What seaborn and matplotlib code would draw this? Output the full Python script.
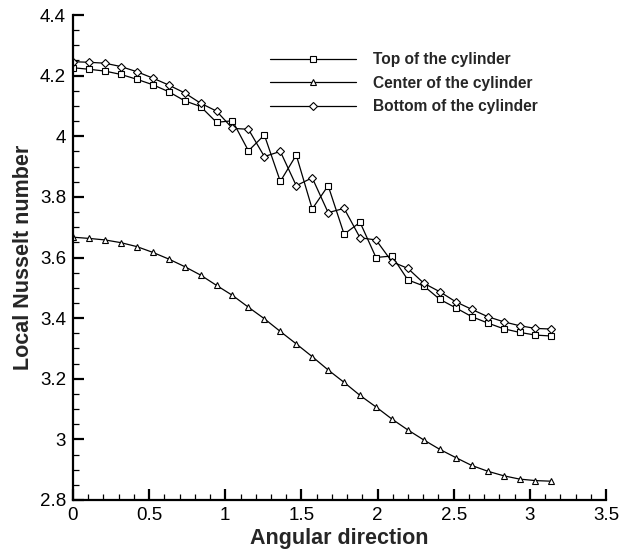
import numpy as np
import pandas as pd
import matplotlib
matplotlib.use("Agg")
import matplotlib.pyplot as plt
import seaborn as sns
from matplotlib.ticker import MultipleLocator, FuncFormatter

# Angular positions: 31 stations from 0 to pi
n_points = 31
angle = [i * np.pi / 30 for i in range(n_points)]

top_nu = [4.226, 4.221, 4.215, 4.204, 4.188, 4.170, 4.147, 4.117, 4.098, 4.046,
          4.051, 3.952, 4.004, 3.851, 3.938, 3.760, 3.837, 3.677, 3.716, 3.600,
          3.605, 3.526, 3.506, 3.462, 3.434, 3.405, 3.384, 3.365, 3.353, 3.344,
          3.341]
center_nu = [3.667, 3.663, 3.658, 3.649, 3.636, 3.617, 3.595, 3.570, 3.542, 3.508,
             3.475, 3.436, 3.398, 3.356, 3.315, 3.273, 3.229, 3.188, 3.145, 3.107,
             3.067, 3.031, 2.998, 2.967, 2.940, 2.914, 2.895, 2.880, 2.869, 2.864,
             2.862]
bottom_nu = [4.246, 4.244, 4.241, 4.230, 4.213, 4.192, 4.169, 4.143, 4.109, 4.083,
             4.026, 4.023, 3.933, 3.950, 3.837, 3.863, 3.748, 3.762, 3.665, 3.658,
             3.586, 3.564, 3.515, 3.487, 3.454, 3.429, 3.405, 3.388, 3.375, 3.366,
             3.364]

series_names = ["Top of the cylinder", "Center of the cylinder", "Bottom of the cylinder"]
series_values = [top_nu, center_nu, bottom_nu]
series_markers = ["s", "^", "D"]
series_msize = [4.7, 4.4, 3.9]

sns.set_theme(style="white")
plt.rcParams["font.family"] = ["Liberation Sans", "DejaVu Sans"]

fig = plt.figure(figsize=(6.35, 5.56), dpi=100)
ax = fig.add_axes([73 / 635, 1 - 500 / 556, (606 - 73) / 635, (500 - 15) / 556])

for name, vals, mk, ms in zip(series_names, series_values, series_markers, series_msize):
    df = pd.DataFrame({"angle": angle, "nu": vals})
    sns.lineplot(data=df, x="angle", y="nu", ax=ax, sort=False, estimator=None,
                 color="black", linewidth=0.9, marker=mk, markersize=ms,
                 markerfacecolor="white", markeredgecolor="black",
                 markeredgewidth=0.8, label=name)

ax.set_xlim(0, 3.5)
ax.set_ylim(2.8, 4.4)
ax.xaxis.set_major_locator(MultipleLocator(0.5))
ax.xaxis.set_minor_locator(MultipleLocator(0.1))
ax.yaxis.set_major_locator(MultipleLocator(0.2))
ax.yaxis.set_minor_locator(MultipleLocator(0.05))
ax.xaxis.set_major_formatter(FuncFormatter(lambda v, p: f"{v:g}"))
ax.yaxis.set_major_formatter(FuncFormatter(lambda v, p: f"{v:g}"))

for side in ["top", "right"]:
    ax.spines[side].set_visible(False)
for side in ["left", "bottom"]:
    ax.spines[side].set_linewidth(1.6)
    ax.spines[side].set_color("black")

ax.tick_params(which="major", direction="in", length=8, width=1.6, labelsize=13.5,
               pad=5, colors="black", bottom=True, left=True)
ax.tick_params(which="minor", direction="in", length=4.5, width=0.9,
               bottom=True, left=True, colors="black")

ax.set_xlabel("Angular direction", fontsize=15.5, fontweight="bold", labelpad=3)
ax.set_ylabel("Local Nusselt number", fontsize=15.5, fontweight="bold", labelpad=4)

leg = ax.legend(loc="upper left", bbox_to_anchor=(270 / 635, 1 - 52 / 556),
                bbox_transform=fig.transFigure, frameon=False,
                prop={"weight": "bold", "size": 11.2}, handlelength=5.5,
                handletextpad=1.1, labelspacing=0.55, borderpad=0,
                borderaxespad=0, numpoints=1)

fig.savefig("out.png", dpi=100, facecolor="white")
